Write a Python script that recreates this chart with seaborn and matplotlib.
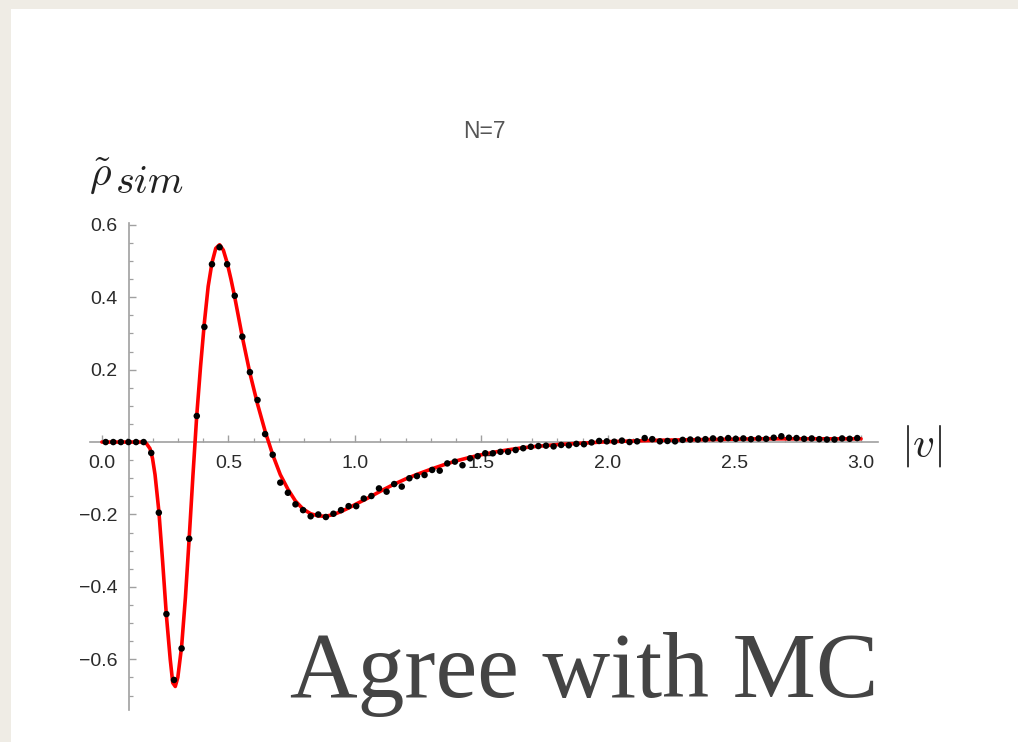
import numpy as np
import pandas as pd
import matplotlib
matplotlib.use("Agg")
import matplotlib.pyplot as plt
from matplotlib.patches import Rectangle
from matplotlib.ticker import MultipleLocator, FixedLocator, FuncFormatter
import seaborn as sns

# ---- data ----
# Monte-Carlo points (bin centres 0.015 + 0.03 k)
mc_v = [0.015 + 0.03 * k for k in range(100)]
mc_rho = [0, 0, 0, 0, 0, 0,
          -0.03, -0.195, -0.475, -0.657, -0.57, -0.267, 0.072, 0.318, 0.491, 0.538,
          0.491, 0.404, 0.291, 0.193, 0.116, 0.022, -0.035, -0.112, -0.14, -0.172,
          -0.188, -0.205, -0.2, -0.207, -0.198, -0.188, -0.177, -0.177, -0.156, -0.149,
          -0.128, -0.137, -0.116, -0.123, -0.1, -0.094, -0.091, -0.077, -0.079, -0.059,
          -0.054, -0.064, -0.045, -0.039, -0.031, -0.031, -0.027, -0.027, -0.022, -0.017,
          -0.013, -0.011, -0.01, -0.012, -0.008, -0.009, -0.005, -0.006, -0.001, 0.003,
          0.002, 0.001, 0.004, 0.0, 0.002, 0.011, 0.008, 0.002, 0.003, 0.002,
          0.006, 0.007, 0.007, 0.008, 0.01, 0.008, 0.011, 0.009, 0.01, 0.008,
          0.01, 0.009, 0.012, 0.016, 0.012, 0.011, 0.009, 0.01, 0.008, 0.007,
          0.007, 0.01, 0.009, 0.011]

# Theory curve (red)
th_v = [0.0, 0.10, 0.16, 0.175, 0.19, 0.20, 0.21, 0.225, 0.24, 0.255, 0.27, 0.28, 0.29,
        0.30, 0.315, 0.33, 0.345, 0.36, 0.375, 0.39, 0.405, 0.42, 0.435, 0.45, 0.465,
        0.48, 0.495, 0.51, 0.525, 0.555, 0.585, 0.615, 0.645, 0.675, 0.705, 0.735,
        0.765, 0.795, 0.825, 0.855, 0.885, 0.915, 0.945, 0.975, 1.005, 1.05, 1.10,
        1.15, 1.20, 1.25, 1.30, 1.35, 1.40, 1.45, 1.50, 1.55, 1.60, 1.65, 1.70, 1.75,
        1.80, 1.85, 1.90, 1.95, 2.0, 2.1, 2.2, 2.3, 2.4, 2.5, 2.6, 2.7, 2.8, 2.9, 3.0]
th_rho = [0.0, 0.0, 0.0, -0.003, -0.018, -0.045, -0.09, -0.19, -0.33, -0.48, -0.60, -0.665,
          -0.675, -0.65, -0.565, -0.43, -0.265, -0.09, 0.075, 0.21, 0.33, 0.43, 0.495,
          0.535, 0.545, 0.53, 0.495, 0.45, 0.40, 0.29, 0.19, 0.105, 0.03, -0.035, -0.09,
          -0.13, -0.163, -0.185, -0.198, -0.204, -0.205, -0.2, -0.192, -0.182, -0.171,
          -0.155, -0.136, -0.118, -0.102, -0.088, -0.075, -0.063, -0.052, -0.043, -0.035,
          -0.028, -0.022, -0.017, -0.013, -0.01, -0.007, -0.005, -0.003, -0.001, 0.001,
          0.003, 0.005, 0.006, 0.007, 0.008, 0.009, 0.009, 0.009, 0.009, 0.009]

x_major = [0.0, 0.5, 1.0, 1.5, 2.0, 2.5, 3.0]
y_major = [-0.6, -0.4, -0.2, 0.2, 0.4, 0.6]
title_text = "N=7"
caption_text = "Agree with MC"

mc = pd.DataFrame({"v": mc_v, "rho": mc_rho})
th = pd.DataFrame({"v": th_v, "rho": th_rho})

sns.set_theme(style="white")
plt.rcParams["font.family"] = ["Liberation Sans", "DejaVu Sans"]
plt.rcParams["mathtext.fontset"] = "cm"

W, H = 1018, 742
fig = plt.figure(figsize=(W / 100, H / 100), dpi=100)
fig.patch.set_facecolor("#efece5")
fig.patches.append(Rectangle((11 / W, 0), 1 - 11 / W, 1 - 9 / H,
                             transform=fig.transFigure, facecolor="white",
                             edgecolor="none", zorder=-10))

# axes placement (pixel coordinates of the reference)
left, right, top, bottom = 90, 878, 223, 710
ax = fig.add_axes([left / W, 1 - bottom / H, (right - left) / W, (bottom - top) / H])
ax.set_zorder(5)
ax.patch.set_alpha(0)
ax.set_xlim(-0.047, 3.067)
ax.set_ylim(-0.74, 0.605)

sns.lineplot(data=th, x="v", y="rho", ax=ax, color="#ff0000", linewidth=2.6,
             sort=False, zorder=3)
sns.scatterplot(data=mc, x="v", y="rho", ax=ax, color="black", s=22,
                edgecolor="none", zorder=4)

axis_col = "#a0a0a0"
for s in ["top", "right"]:
    ax.spines[s].set_visible(False)
ax.spines["left"].set_position(("data", 0.107))
ax.spines["bottom"].set_position(("data", 0.0))
for s in ["left", "bottom"]:
    ax.spines[s].set_color(axis_col)
    ax.spines[s].set_linewidth(1.2)

ax.xaxis.set_major_locator(FixedLocator(x_major))
ax.xaxis.set_minor_locator(MultipleLocator(0.1))
ax.yaxis.set_major_locator(FixedLocator(y_major))
ax.yaxis.set_minor_locator(MultipleLocator(0.05))
fmt = FuncFormatter(lambda v, p: f"{v:.1f}".replace("-", "\u2212"))
ax.xaxis.set_major_formatter(fmt)
ax.yaxis.set_major_formatter(fmt)

ax.tick_params(axis="both", which="both", bottom=True, left=True, top=False, right=False)
ax.tick_params(axis="both", which="major", direction="in", length=5, width=1.0,
               color=axis_col, labelsize=14, labelcolor="#2a2a2a")
ax.tick_params(axis="both", which="minor", direction="in", length=3, width=0.9,
               color=axis_col)
ax.tick_params(axis="x", which="major", pad=9)
ax.tick_params(axis="y", which="major", pad=8)
ax.set_xlabel("")
ax.set_ylabel("")
ax.grid(False)

# texts
fig.text(484 / W, 1 - 132 / H, title_text, ha="center", va="center",
         fontsize=16.5, color="#555555")
fig.text(89 / W, 1 - 185 / H, r"$\tilde{\rho}$", ha="left", va="baseline",
         fontsize=30, color="#222222")
fig.text(115 / W, 1 - 193 / H, r"$sim$", ha="left", va="baseline",
         fontsize=29, color="#222222")
fig.text(922 / W, 1 - 446 / H, r"$|v|$", ha="center", va="center",
         fontsize=31, color="#222222")
fig.text(290 / W, 1 - 697 / H, caption_text, ha="left", va="baseline",
         fontsize=67.5, color="#444444", family=["Liberation Serif", "DejaVu Serif"])

fig.savefig("out.png", dpi=100, facecolor=fig.get_facecolor())
